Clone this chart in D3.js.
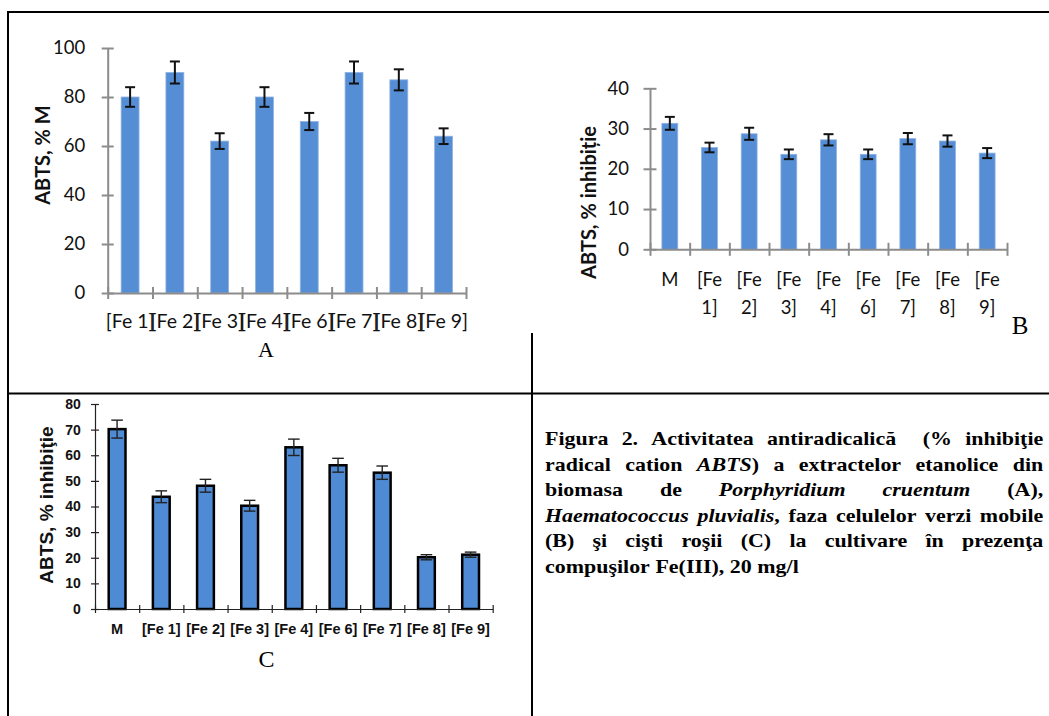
<!DOCTYPE html>
<html>
<head>
<meta charset="utf-8">
<script src="https://cdn.jsdelivr.net/npm/d3@7"></script>
<style>
  body { margin: 0; background: #fff; }
</style>
</head>
<body>
<script>
// ---- data ----
const catsA = ['[Fe 1]', '[Fe 2]', '[Fe 3]', '[Fe 4]', '[Fe 6]', '[Fe 7]', '[Fe 8]', '[Fe 9]'];
const valsA = [80, 90, 62, 80, 70, 90, 87, 64];
const errA = [4, 4.5, 3.2, 4, 3.5, 4.5, 4.3, 3.2];
const ticksA = [0, 20, 40, 60, 80, 100];

const catsB = ['M', '[Fe 1]', '[Fe 2]', '[Fe 3]', '[Fe 4]', '[Fe 6]', '[Fe 7]', '[Fe 8]', '[Fe 9]'];
const valsB = [31.3, 25.3, 28.7, 23.6, 27.2, 23.6, 27.5, 26.9, 23.9];
const errB = [1.6, 1.2, 1.5, 1.2, 1.4, 1.2, 1.4, 1.4, 1.25];
const ticksB = [0, 10, 20, 30, 40];

const catsC = ['M', '[Fe 1]', '[Fe 2]', '[Fe 3]', '[Fe 4]', '[Fe 6]', '[Fe 7]', '[Fe 8]', '[Fe 9]'];
const valsC = [70.2, 43.8, 48.1, 40.3, 63.1, 56.1, 53.2, 20.2, 21.2];
const errC = [3.5, 2.3, 2.5, 2.1, 3.2, 2.7, 2.6, 1.0, 1.0];
const ticksC = [0, 10, 20, 30, 40, 50, 60, 70, 80];

// caption, _..._ marks italic
const captionLines = [
    'Figura 2. Activitatea antiradicalică  (% inhibiţie',
    'radical cation _ABTS_) a extractelor etanolice din',
    'biomasa de _Porphyridium_ _cruentum_ (A),',
    '_Haematococcus_ _pluvialis_, faza celulelor verzi mobile',
    '(B) şi cişti roşii (C) la cultivare în prezenţa',
    'compuşilor Fe(III), 20 mg/l'
];

const W = 1049, H = 716;
const svg = d3.select('body').append('svg')
    .attr('width', W)
    .attr('height', H);

// table borders
const border = svg.append('g').attr('stroke', '#000').attr('stroke-width', 2);
border.append('line').attr('x1', 8).attr('y1', 11).attr('x2', 8).attr('y2', H);
border.append('line').attr('x1', 7).attr('y1', 12).attr('x2', W).attr('y2', 12);
border.append('line').attr('x1', 7).attr('y1', 393.5).attr('x2', W).attr('y2', 393.5);
border.append('line').attr('x1', 532).attr('y1', 333).attr('x2', 532).attr('y2', H);

function drawPanel(p) {
    const g = svg.append('g');
    const x = d3.scaleBand().domain(p.cats).range([p.left, p.right]);
    const y = d3.scaleLinear().domain([0, p.max]).range([p.bottom, p.top]);
    const bw = x.bandwidth() * p.barFrac;

    // bars
    g.selectAll('rect.bar')
        .data(p.vals)
        .join('rect')
        .attr('class', 'bar')
        .attr('x', (d, i) => x(p.cats[i]) + (x.bandwidth() - bw) / 2)
        .attr('y', d => y(d))
        .attr('width', bw)
        .attr('height', d => y(0) - y(d))
        .attr('fill', p.fill)
        .attr('stroke', p.stroke)
        .attr('stroke-width', p.strokeW);

    // y axis, ticks crossing the line
    const ya = g.append('g')
        .attr('transform', `translate(${p.left},0)`)
        .call(d3.axisLeft(y).tickValues(p.ticks).tickSize(0).tickSizeOuter(0).tickPadding(p.labelGap));
    ya.attr('font-family', p.font).attr('font-size', p.tickFont).attr('font-weight', p.tickWeight);
    ya.select('.domain').attr('stroke', p.axisColor).attr('stroke-width', p.axisW);
    ya.selectAll('.tick line')
        .attr('x1', -p.tickLen).attr('x2', p.tickLen)
        .attr('stroke', p.axisColor).attr('stroke-width', p.axisW);
    ya.selectAll('.tick text').attr('fill', '#111');

    // x axis line with ticks at category boundaries
    const idx = d3.scaleLinear().domain([0, p.cats.length]).range([p.left, p.right]);
    const xa = g.append('g')
        .attr('transform', `translate(0,${p.bottom})`)
        .call(d3.axisBottom(idx).tickValues(d3.range(p.cats.length + 1)).tickFormat('').tickSize(0).tickSizeOuter(0));
    xa.select('.domain').attr('stroke', p.axisColor).attr('stroke-width', p.axisW);
    xa.selectAll('.tick line')
        .attr('y1', -p.xTickUp).attr('y2', p.tickLen)
        .attr('stroke', p.axisColor).attr('stroke-width', p.axisW);

    // category labels
    const xl = g.append('g')
        .attr('transform', `translate(0,${p.bottom})`)
        .call(d3.axisBottom(x).tickSize(0));
    xl.select('.domain').remove();
    xl.attr('font-family', p.font).attr('font-size', p.labelFont).attr('font-weight', p.tickWeight);
    xl.selectAll('.tick text')
        .attr('fill', '#111')
        .attr('dy', null)
        .attr('y', p.labelY)
        .each(function (d) {
            if (!p.wrap || d.indexOf(' ') < 0) return;
            const t = d3.select(this);
            const parts = d.split(' ');
            t.text(null);
            parts.forEach((s, k) => {
                t.append('tspan').attr('x', 0).attr('y', p.labelY + k * p.wrapGap).text(s);
            });
        });

    // error bars
    const eb = g.append('g').attr('stroke', p.errColor).attr('stroke-width', p.errW);
    p.vals.forEach((v, i) => {
        const cx = x(p.cats[i]) + x.bandwidth() / 2;
        const e = p.errs[i];
        eb.append('line').attr('x1', cx).attr('x2', cx).attr('y1', y(v + e)).attr('y2', y(v - e));
        eb.append('line').attr('x1', cx - p.cap).attr('x2', cx + p.cap).attr('y1', y(v + e)).attr('y2', y(v + e));
        eb.append('line').attr('x1', cx - p.cap).attr('x2', cx + p.cap).attr('y1', y(v - e)).attr('y2', y(v - e));
    });

    // y title
    g.append('text')
        .attr('transform', `translate(${p.titleX},${p.titleY}) rotate(-90)`)
        .attr('text-anchor', 'middle')
        .attr('font-family', p.font)
        .attr('font-weight', 'bold')
        .attr('font-size', p.titleFont)
        .attr('fill', '#111')
        .text(p.title);

    // panel letter
    g.append('text')
        .attr('x', p.letterX)
        .attr('y', p.letterY)
        .attr('text-anchor', 'middle')
        .attr('font-family', '"Liberation Serif", "Times New Roman", serif')
        .attr('font-size', p.letterFont)
        .attr('fill', '#000')
        .text(p.letter);
}

// A
drawPanel({
    cats: catsA, vals: valsA, errs: errA, ticks: ticksA, max: 100,
    left: 107.7, right: 466, top: 48, bottom: 293,
    barFrac: 0.4, fill: '#558ed5', stroke: '#8fb2e3', strokeW: 0.8,
    axisColor: '#8c8c8c', axisW: 2, tickLen: 6, xTickUp: 6,
    font: 'Lato, sans-serif', tickFont: 18.5, tickWeight: 'normal', labelFont: 19.5,
    labelGap: 22.5, labelY: 35,
    errColor: '#111', errW: 2, cap: 5,
    title: 'ABTS, % M', titleX: 50, titleY: 155, titleFont: 20,
    letter: 'A', letterX: 266, letterY: 357, letterFont: 22
});

// B
drawPanel({
    cats: catsB, vals: valsB, errs: errB, ticks: ticksB, max: 40,
    left: 650, right: 1007, top: 88.3, bottom: 249.3,
    barFrac: 0.4, fill: '#558ed5', stroke: '#8fb2e3', strokeW: 0.8,
    axisColor: '#8c8c8c', axisW: 2, tickLen: 6.5, xTickUp: 6.5,
    font: 'Lato, sans-serif', tickFont: 18.5, tickWeight: 'normal', labelFont: 18.5,
    labelGap: 21, labelY: 36.4, wrap: true, wrapGap: 28,
    errColor: '#111', errW: 2, cap: 5,
    title: 'ABTS, % inhibiție', titleX: 596, titleY: 202.5, titleFont: 20,
    letter: 'B', letterX: 1020, letterY: 334, letterFont: 25
});

// C
drawPanel({
    cats: catsC, vals: valsC, errs: errC, ticks: ticksC, max: 80,
    left: 95, right: 492.7, top: 404, bottom: 609,
    barFrac: 0.38, fill: '#4f8ad4', stroke: '#000', strokeW: 2.5,
    axisColor: '#222', axisW: 1.2, tickLen: 4, xTickUp: 4,
    font: '"Liberation Sans", Arial, sans-serif', tickFont: 14, tickWeight: 'bold', labelFont: 14.5,
    labelGap: 14.3, labelY: 25,
    errColor: '#222', errW: 1.4, cap: 5.8,
    title: 'ABTS, % inhibiţie', titleX: 52.7, titleY: 505, titleFont: 19,
    letter: 'C', letterX: 266.5, letterY: 666.5, letterFont: 24
});

// caption, justified by hand; glyphs are a little wider than plain Times in the source
const capX0 = 545, capX1 = 1043.3, capY0 = 445, capLH = 25.5, capSX = 1.22;
const cap = svg.append('g')
    .attr('font-family', '"Liberation Serif", "Times New Roman", serif')
    .attr('font-size', 18)
    .attr('font-weight', 'bold')
    .attr('fill', '#000');

captionLines.forEach((line, li) => {
    const tokens = line.split(' ');
    const words = [];
    tokens.forEach(tok => {
        if (tok === '') { if (words.length) words[words.length - 1].spaces += 1; return; }
        words.push({ text: tok, spaces: 1 });
    });
    words[words.length - 1].spaces = 0;
    const y = capY0 + li * capLH;
    words.forEach(w => {
        const t = cap.append('text');
        w.text.split('_').forEach((s, k) => {
            if (s === '') return;
            t.append('tspan').attr('font-style', k % 2 ? 'italic' : 'normal').text(s);
        });
        w.node = t;
        w.width = t.node().getComputedTextLength() * capSX;
    });
    const total = d3.sum(words, w => w.width);
    const nSpaces = d3.sum(words, w => w.spaces);
    const last = li === captionLines.length - 1;
    const gap = last ? 5.5 : (capX1 - capX0 - total) / nSpaces;
    let cx = capX0;
    words.forEach(w => {
        w.node.attr('transform', `translate(${cx},${y}) scale(${capSX},1)`);
        cx += w.width + w.spaces * gap;
    });
});
</script>
</body>
</html>
